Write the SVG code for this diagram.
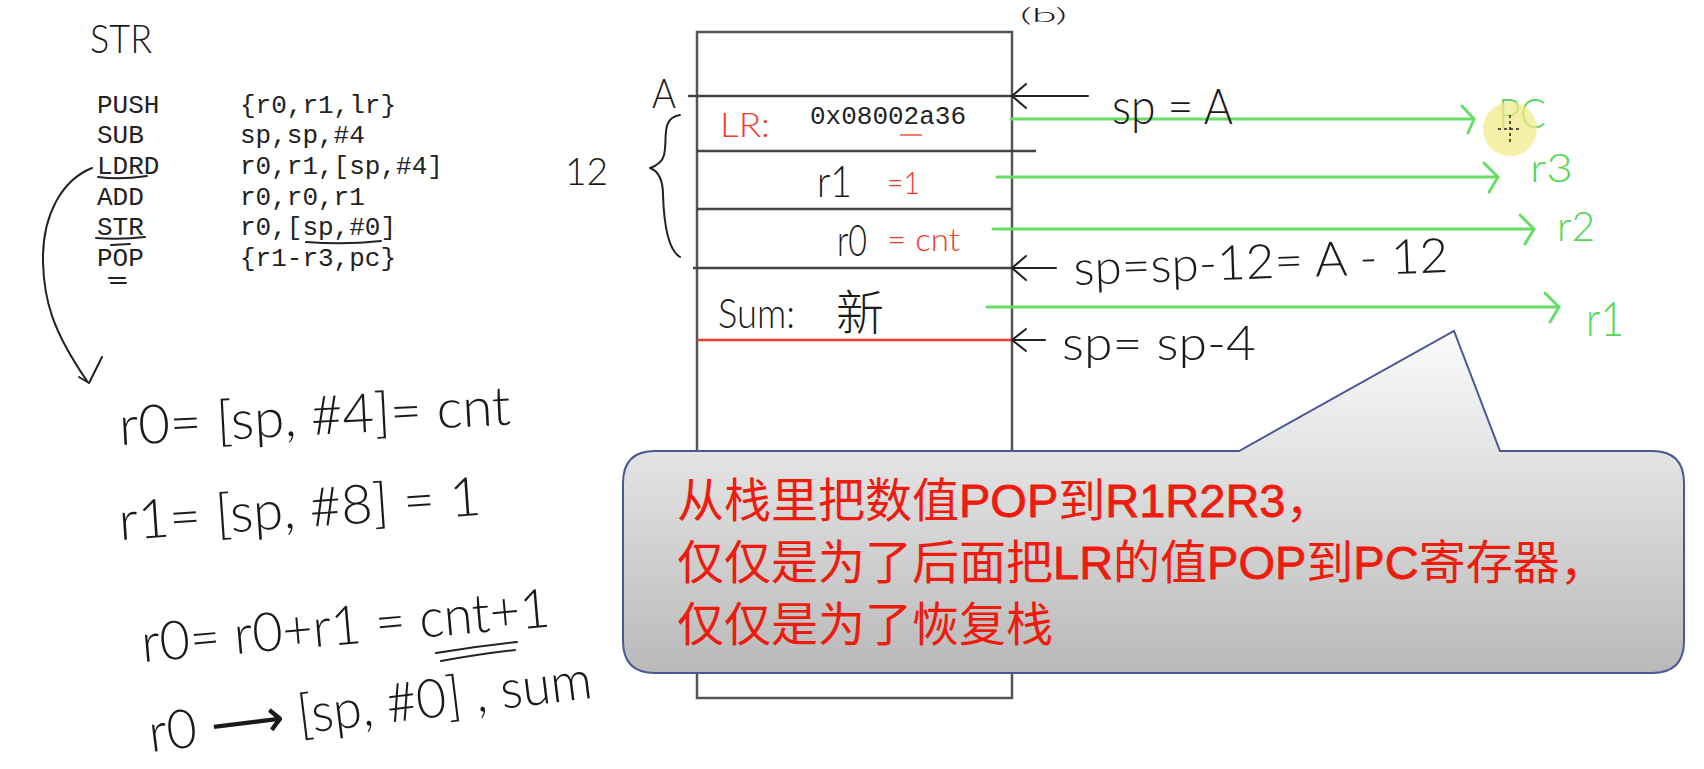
<svg xmlns="http://www.w3.org/2000/svg" width="1704" height="769" viewBox="0 0 1704 769">
<style>
.hw{font-family:Lato,"DejaVu Sans","Noto Sans CJK SC",sans-serif;font-weight:300;fill:#1a1a1a}
.hr{font-family:Lato,"DejaVu Sans",sans-serif;font-weight:300;fill:#f03a2a}
.hg{font-family:Lato,"DejaVu Sans",sans-serif;font-weight:300;fill:#55d655}
.code{font-family:"Liberation Mono",monospace;font-size:26px;fill:#222}
.ink{fill:none;stroke:#222;stroke-width:2;stroke-linecap:round;stroke-linejoin:round}
.gl{fill:none;stroke:#66dd66;stroke-width:3;stroke-linecap:round;stroke-linejoin:round}
.cal{font-family:"Liberation Sans","Noto Sans CJK SC",sans-serif;font-size:47px;fill:#ee1c0e}
.lat{stroke:#ee1c0e;stroke-width:0.8}
</style>
<defs>
<linearGradient id="cg" x1="0" y1="0" x2="0" y2="1">
<stop offset="0" stop-color="#fbfbfb"/>
<stop offset="1" stop-color="#b9b9b9"/>
</linearGradient>
</defs>
<rect width="1704" height="769" fill="#ffffff"/>

<g id="code">
<text class="hw" x="90" y="53" font-size="40" textLength="62" lengthAdjust="spacingAndGlyphs">STR</text>
<text class="code" x="97" y="113">PUSH</text><text class="code" x="240" y="113">{r0,r1,lr}</text>
<text class="code" x="97" y="143">SUB</text><text class="code" x="240" y="143">sp,sp,#4</text>
<text class="code" x="97" y="174">LDRD</text><text class="code" x="240" y="174">r0,r1,[sp,#4]</text>
<text class="code" x="97" y="205">ADD</text><text class="code" x="240" y="205">r0,r0,r1</text>
<text class="code" x="97" y="235">STR</text><text class="code" x="240" y="235">r0,[sp,#0]</text>
<text class="code" x="97" y="266">POP</text><text class="code" x="240" y="266">{r1-r3,pc}</text>
<path class="ink" d="M98 177 Q120 180 147 176"/>
<path class="ink" d="M96 238 Q120 240 145 237 M111 245 L130 244"/>
<path class="ink" d="M306 242 Q345 245 381 241"/>
<path class="ink" d="M109 278 L125 278 M111 283 L126 283"/>
</g>

<g id="notes">
<path class="ink" d="M92 168 C62 180 42 215 43 262 C44 300 52 330 87 381"/>
<path class="ink" d="M79 377 L89 383 L102 357"/>
<text class="hw" x="120" y="445" font-size="54" textLength="392" lengthAdjust="spacingAndGlyphs" transform="rotate(-3 120 445)">r0= [sp, #4]= cnt</text>
<text class="hw" x="120" y="540" font-size="54" textLength="363" lengthAdjust="spacingAndGlyphs" transform="rotate(-4 120 540)">r1= [sp, #8] = 1</text>
<text class="hw" x="143" y="662" font-size="54" textLength="410" lengthAdjust="spacingAndGlyphs" transform="rotate(-5 143 662)">r0= r0+r1 = cnt+1</text>
<path class="ink" d="M436 653 Q478 646 517 642 M441 661 Q480 654 515 650"/>
<text class="hw" x="151" y="752" font-size="54" textLength="446" lengthAdjust="spacingAndGlyphs" transform="rotate(-7 151 752)">r0 ⟶ [sp, #0] , sum</text>
</g>

<g id="stack">
<rect x="697" y="32" width="315" height="666" fill="none" stroke="#555" stroke-width="2.5"/>
<line x1="688" y1="96" x2="1012" y2="96" stroke="#444" stroke-width="2.5"/>
<line x1="697" y1="151" x2="1036" y2="151" stroke="#444" stroke-width="2.5"/>
<line x1="697" y1="209" x2="1012" y2="209" stroke="#444" stroke-width="2.5"/>
<line x1="693" y1="268" x2="1012" y2="268" stroke="#444" stroke-width="2.5"/>
<line x1="697" y1="340" x2="1012" y2="340" stroke="#ee3b2e" stroke-width="2.5"/>
<text class="hr" x="720" y="137" font-size="34" textLength="50" lengthAdjust="spacingAndGlyphs">LR:</text>
<text class="code" x="810" y="124" fill="#222">0x08002a36</text>
<line x1="900" y1="135" x2="922" y2="135" stroke="#f05040" stroke-width="1.5"/>
<text class="hw" x="817" y="197" font-size="44" textLength="35" lengthAdjust="spacingAndGlyphs">r1</text>
<text class="hr" x="887" y="194" font-size="32" textLength="33" lengthAdjust="spacingAndGlyphs">=1</text>
<text class="hw" x="837" y="256" font-size="44" textLength="30" lengthAdjust="spacingAndGlyphs">r0</text>
<text class="hr" x="887" y="251" font-size="32" textLength="73" lengthAdjust="spacingAndGlyphs">= cnt</text>
<text class="hw" x="718" y="328" font-size="42" textLength="77" lengthAdjust="spacingAndGlyphs">Sum:</text>
<text class="hw" x="836" y="330" font-size="48" font-weight="200">新</text>
<text class="hw" x="652" y="108" font-size="42" textLength="24" lengthAdjust="spacingAndGlyphs">A</text>
<text class="hw" x="565" y="185" font-size="38" textLength="43" lengthAdjust="spacingAndGlyphs">12</text>
<path class="ink" d="M680 115 C660 118 668 140 664 155 C662 163 656 166 650 168 C658 171 663 178 663 195 C664 225 668 250 680 257"/>
<text class="hw" x="1020" y="22" font-size="20" textLength="47" lengthAdjust="spacingAndGlyphs">(b)</text>
</g>

<g id="connectors">
<path class="ink" d="M1088 96 L1012 96 M1026 84 L1012 96 L1026 108"/>
<path class="ink" d="M1056 268 L1012 268 M1026 256 L1012 268 L1026 280"/>
<path class="ink" d="M1045 340 L1012 340 M1026 329 L1012 340 L1026 351"/>
<line class="gl" x1="1011" y1="119" x2="1474" y2="119"/>
<path class="gl" d="M1462 106 L1474 119 L1468 133"/>
<line class="gl" x1="997" y1="177" x2="1498" y2="177"/>
<path class="gl" d="M1484 163 L1498 177 L1489 192"/>
<line class="gl" x1="993" y1="229" x2="1534" y2="229"/>
<path class="gl" d="M1520 215 L1534 229 L1525 244"/>
<line class="gl" x1="987" y1="307" x2="1559" y2="307"/>
<path class="gl" d="M1545 293 L1559 307 L1550 322"/>
</g>

<g id="labels">
<text class="hw" x="1112" y="124" font-size="50" textLength="121" lengthAdjust="spacingAndGlyphs">sp = A</text>
<text class="hw" x="1074" y="285" font-size="48" textLength="375" lengthAdjust="spacingAndGlyphs" transform="rotate(-2 1074 285)">sp=sp-12= A - 12</text>
<text class="hw" x="1062" y="360" font-size="48" textLength="194" lengthAdjust="spacingAndGlyphs">sp= sp-4</text>
<text class="hg" x="1498" y="128" font-size="42" textLength="48" lengthAdjust="spacingAndGlyphs">PC</text>
<text class="hg" x="1530" y="182" font-size="40" textLength="43" lengthAdjust="spacingAndGlyphs">r3</text>
<text class="hg" x="1557" y="241" font-size="42" textLength="38" lengthAdjust="spacingAndGlyphs">r2</text>
<text class="hg" x="1586" y="336" font-size="48" textLength="38" lengthAdjust="spacingAndGlyphs">r1</text>
</g>

<g id="cursor">
<circle cx="1510" cy="129" r="27" fill="#f3e98a" opacity="0.75"/>
<path d="M1510 115 V143 M1498 129 H1522" stroke="#222" stroke-width="1.5" stroke-dasharray="3 3"/>
</g>

<g id="callout">
<path d="M655 451 H1239 L1454 331 L1500 451 H1652 Q1684 451 1684 483 V641 Q1684 673 1652 673 H655 Q623 673 623 641 V483 Q623 451 655 451 Z" fill="url(#cg)" stroke="#4a5796" stroke-width="2"/>
<text class="cal" x="677" y="517">从栈里把数值<tspan class="lat">POP</tspan>到<tspan class="lat">R1R2R3</tspan>，</text>
<text class="cal" x="677" y="579">仅仅是为了后面把<tspan class="lat">LR</tspan>的值<tspan class="lat">POP</tspan>到<tspan class="lat">PC</tspan>寄存器，</text>
<text class="cal" x="677" y="641">仅仅是为了恢复栈</text>
</g>
</svg>
